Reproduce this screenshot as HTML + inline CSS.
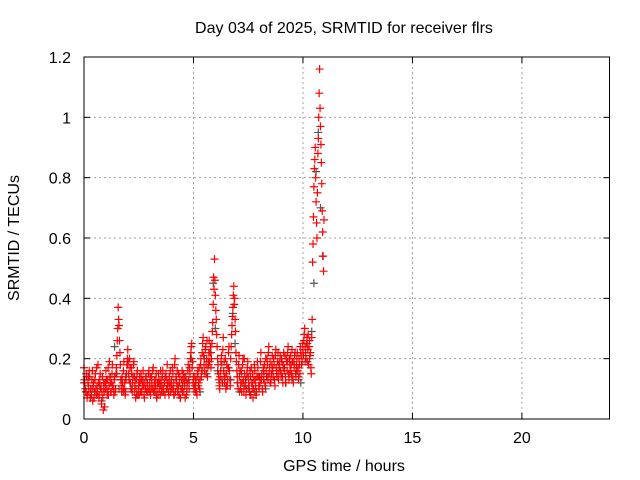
<!DOCTYPE html>
<html><head><meta charset="utf-8"><style>
html,body{margin:0;padding:0;background:#fff;}
svg{display:block;font-family:"Liberation Sans",sans-serif;}
</style></head><body>
<svg id="chart" width="640" height="480" viewBox="0 0 640 480" xmlns="http://www.w3.org/2000/svg">
<rect width="640" height="480" fill="#fff"/>
<text x="344" y="33" font-size="16" text-anchor="middle" fill="#000">Day 034 of 2025, SRMTID for receiver flrs</text>
<text x="344" y="471" font-size="16" text-anchor="middle">GPS time / hours</text>
<text x="19" y="238" font-size="16" text-anchor="middle" transform="rotate(-90 19 238)">SRMTID / TECUs</text>
<g id="grid"></g>
<g id="grey-series"></g>
<g id="red-series"></g>
<g id="axes"></g>
</svg>
<script>
const xTicks=[0,5,10,15,20];
const yTicks=[0,0.2,0.4,0.6,0.8,1,1.2];
const yTickLabels=["0","0.2","0.4","0.6","0.8","1","1.2"];
const redStart=0, redStep=0.04;
const redValues=[0.17,0.12,0.09,0.14,0.08,0.11,0.16,0.07,0.10,0.13,0.06,0.12,0.09,0.15,0.08,0.11,0.18,0.07,0.13,0.10,0.05,0.14,0.03,0.09,0.12,
0.16,0.10,0.13,0.08,0.19,0.12,0.09,0.15,0.11,0.08,0.14,0.10,0.17,0.26,0.37,0.31,0.22,0.13,0.09,0.12,0.16,0.10,0.08,0.13,0.18,
0.23,0.15,0.20,0.12,0.17,0.09,0.14,0.19,0.11,0.07,0.13,0.16,0.10,0.08,0.12,0.15,0.09,0.13,0.11,0.07,0.10,0.14,0.12,0.09,0.16,
0.12,0.08,0.14,0.10,0.17,0.11,0.09,0.13,0.07,0.12,0.15,0.10,0.08,0.13,0.11,0.16,0.09,0.12,0.14,0.10,0.18,0.12,0.08,0.11,0.09,
0.13,0.17,0.10,0.08,0.20,0.14,0.11,0.09,0.15,0.12,0.07,0.10,0.16,0.13,0.09,0.11,0.14,0.08,0.12,0.18,0.10,0.15,0.22,0.25,0.19,
0.14,0.11,0.09,0.13,0.08,0.16,0.12,0.10,0.18,0.14,0.22,0.27,0.18,0.15,0.24,0.20,0.14,0.19,0.26,0.22,0.17,0.25,0.32,0.47,0.53,
0.41,0.33,0.24,0.18,0.13,0.10,0.16,0.21,0.12,0.27,0.19,0.14,0.10,0.18,0.13,0.22,0.16,0.11,0.24,0.31,0.37,0.44,0.40,0.29,0.19,
0.14,0.10,0.21,0.16,0.12,0.09,0.18,0.13,0.20,0.11,0.08,0.15,0.19,0.12,0.09,0.14,0.17,0.10,0.07,0.13,0.16,0.11,0.09,0.19,0.14,
0.10,0.12,0.22,0.15,0.09,0.13,0.18,0.11,0.16,0.20,0.13,0.24,0.17,0.12,0.15,0.21,0.14,0.18,0.11,0.23,0.16,0.19,0.13,0.17,0.21,
0.15,0.19,0.12,0.22,0.17,0.14,0.20,0.16,0.24,0.13,0.18,0.21,0.15,0.19,0.12,0.17,0.22,0.14,0.20,0.16,0.13,0.18,0.24,0.21,0.19,
0.23,0.26,0.30,0.22,0.25,0.19,0.28,0.24,0.21,0.17,0.27,0.52,0.67,0.83,0.90,0.72,0.60,0.88,1.00,1.16,0.97,0.85,0.69,0.54,0.66];
const red2Start=0.02, red2Step=0.04;
const red2Values=[0.13,0.10,0.15,0.07,0.12,0.09,0.14,0.10,0.08,0.16,0.11,0.07,0.13,0.10,0.17,0.09,0.12,0.08,0.15,0.11,0.09,0.07,0.12,0.04,0.10,
0.13,0.08,0.17,0.11,0.14,0.09,0.12,0.18,0.10,0.13,0.09,0.15,0.21,0.30,0.33,0.26,0.18,0.11,0.14,0.10,0.19,0.12,0.09,0.15,0.20,
0.19,0.13,0.17,0.10,0.15,0.12,0.18,0.09,0.13,0.10,0.15,0.08,0.12,0.14,0.09,0.13,0.11,0.16,0.08,0.12,0.14,0.09,0.11,0.15,0.10,
0.14,0.10,0.12,0.16,0.09,0.13,0.11,0.15,0.10,0.08,0.13,0.12,0.16,0.09,0.14,0.10,0.12,0.08,0.15,0.13,0.11,0.09,0.14,0.16,0.12,
0.10,0.15,0.12,0.18,0.09,0.13,0.16,0.11,0.08,0.14,0.10,0.13,0.09,0.15,0.12,0.07,0.13,0.10,0.16,0.13,0.17,0.20,0.24,0.17,0.12,
0.10,0.14,0.12,0.09,0.15,0.11,0.17,0.13,0.20,0.16,0.25,0.21,0.16,0.23,0.18,0.26,0.17,0.22,0.19,0.24,0.20,0.29,0.38,0.43,0.46,
0.36,0.28,0.20,0.15,0.11,0.14,0.19,0.13,0.23,0.16,0.12,0.20,0.15,0.11,0.17,0.24,0.13,0.20,0.28,0.34,0.41,0.38,0.33,0.22,0.16,
0.12,0.18,0.14,0.10,0.16,0.12,0.20,0.09,0.15,0.13,0.10,0.17,0.14,0.11,0.16,0.08,0.12,0.15,0.10,0.18,0.13,0.08,0.14,0.17,0.11,
0.14,0.19,0.13,0.10,0.17,0.15,0.12,0.20,0.14,0.18,0.22,0.15,0.19,0.13,0.18,0.16,0.20,0.13,0.21,0.17,0.14,0.22,0.15,0.19,0.16,
0.20,0.14,0.18,0.16,0.21,0.12,0.19,0.22,0.15,0.20,0.16,0.18,0.23,0.14,0.19,0.21,0.15,0.18,0.22,0.17,0.20,0.15,0.22,0.18,0.25,
0.21,0.28,0.24,0.20,0.27,0.23,0.18,0.26,0.22,0.15,0.33,0.58,0.77,0.86,0.80,0.65,0.75,0.93,1.08,1.03,0.91,0.78,0.62,0.49];
const greyStart=0, greyStep=0.1;
const greyValues=[0.12,0.09,0.14,0.07,0.10,0.13,0.08,0.11,0.06,0.10,0.12,0.09,0.14,0.11,0.24,0.15,0.10,0.13,0.09,0.14,
0.18,0.12,0.10,0.14,0.08,0.11,0.09,0.13,0.10,0.12,0.09,0.13,0.10,0.08,0.12,0.11,0.09,0.14,0.10,0.12,
0.11,0.08,0.13,0.10,0.07,0.11,0.14,0.09,0.12,0.20,0.12,0.10,0.14,0.09,0.16,0.20,0.15,0.18,0.22,0.45,
0.30,0.16,0.12,0.18,0.14,0.11,0.17,0.13,0.35,0.25,0.12,0.09,0.15,0.11,0.13,0.10,0.08,0.12,0.09,0.14,
0.11,0.13,0.16,0.10,0.14,0.12,0.17,0.13,0.15,0.18,0.14,0.17,0.12,0.19,0.15,0.13,0.18,0.16,0.14,0.12,
0.22,0.19,0.25,0.20,0.29,0.45,0.82,0.95,0.70,0.54];

const L=84,R=609.5,T=57,B=419,XMAX=24,YMAX=1.2;
const xs=v=>L+(R-L)*v/XMAX;
const ys=v=>B-(B-T)*v/YMAX;
const NS="http://www.w3.org/2000/svg";
function mk(tag,attrs,parent){const e=document.createElementNS(NS,tag);for(const k in attrs)e.setAttribute(k,attrs[k]);parent.appendChild(e);return e;}
const grid=document.getElementById('grid'),axes=document.getElementById('axes');
xTicks.forEach(t=>{
  const x=xs(t);
  if(t>0){const g=mk('line',{x1:x,x2:x,y1:T,y2:B,stroke:'#a0a0a0','stroke-dasharray':'2,3'},grid);
  
  }
  mk('line',{x1:x,x2:x,y1:B,y2:B-6,stroke:'#000'},axes);
  mk('line',{x1:x,x2:x,y1:T,y2:T+6,stroke:'#000'},axes);
  const lb=mk('text',{x:x,y:B+24,'font-size':16,'text-anchor':'middle'},axes);lb.textContent=t;
  
  
});
yTicks.forEach((t,i)=>{
  const y=ys(t);
  if(t>0&&t<1.2){const g=mk('line',{x1:L,x2:R,y1:y,y2:y,stroke:'#a0a0a0','stroke-dasharray':'2,3'},grid);
  
  }
  mk('line',{x1:L,x2:L+6,y1:y,y2:y,stroke:'#000'},axes);
  mk('line',{x1:R,x2:R-6,y1:y,y2:y,stroke:'#000'},axes);
  const lb=mk('text',{x:L-13,y:y+6,'font-size':16,'text-anchor':'end'},axes);lb.textContent=yTickLabels[i];
  
  
});
const frame=mk('rect',{x:L,y:T,width:R-L,height:B-T,fill:'none',stroke:'#000','stroke-width':1},axes);


function plus(g,x,y,c){mk('path',{d:`M${x-4},${y}H${x+4}M${x},${y-4}V${y+4}`,stroke:c,'stroke-width':1.2,fill:'none'},g);}
const gg=document.getElementById('grey-series');


greyValues.forEach((v,i)=>plus(gg,xs(greyStart+i*greyStep),ys(v),'#555'));
const rg=document.getElementById('red-series');


redValues.forEach((v,i)=>plus(rg,xs(redStart+i*redStep),ys(v),'#ff0000'));
red2Values.forEach((v,i)=>plus(rg,xs(red2Start+i*red2Step),ys(v),'#ff0000'));
</script>
</body></html>
